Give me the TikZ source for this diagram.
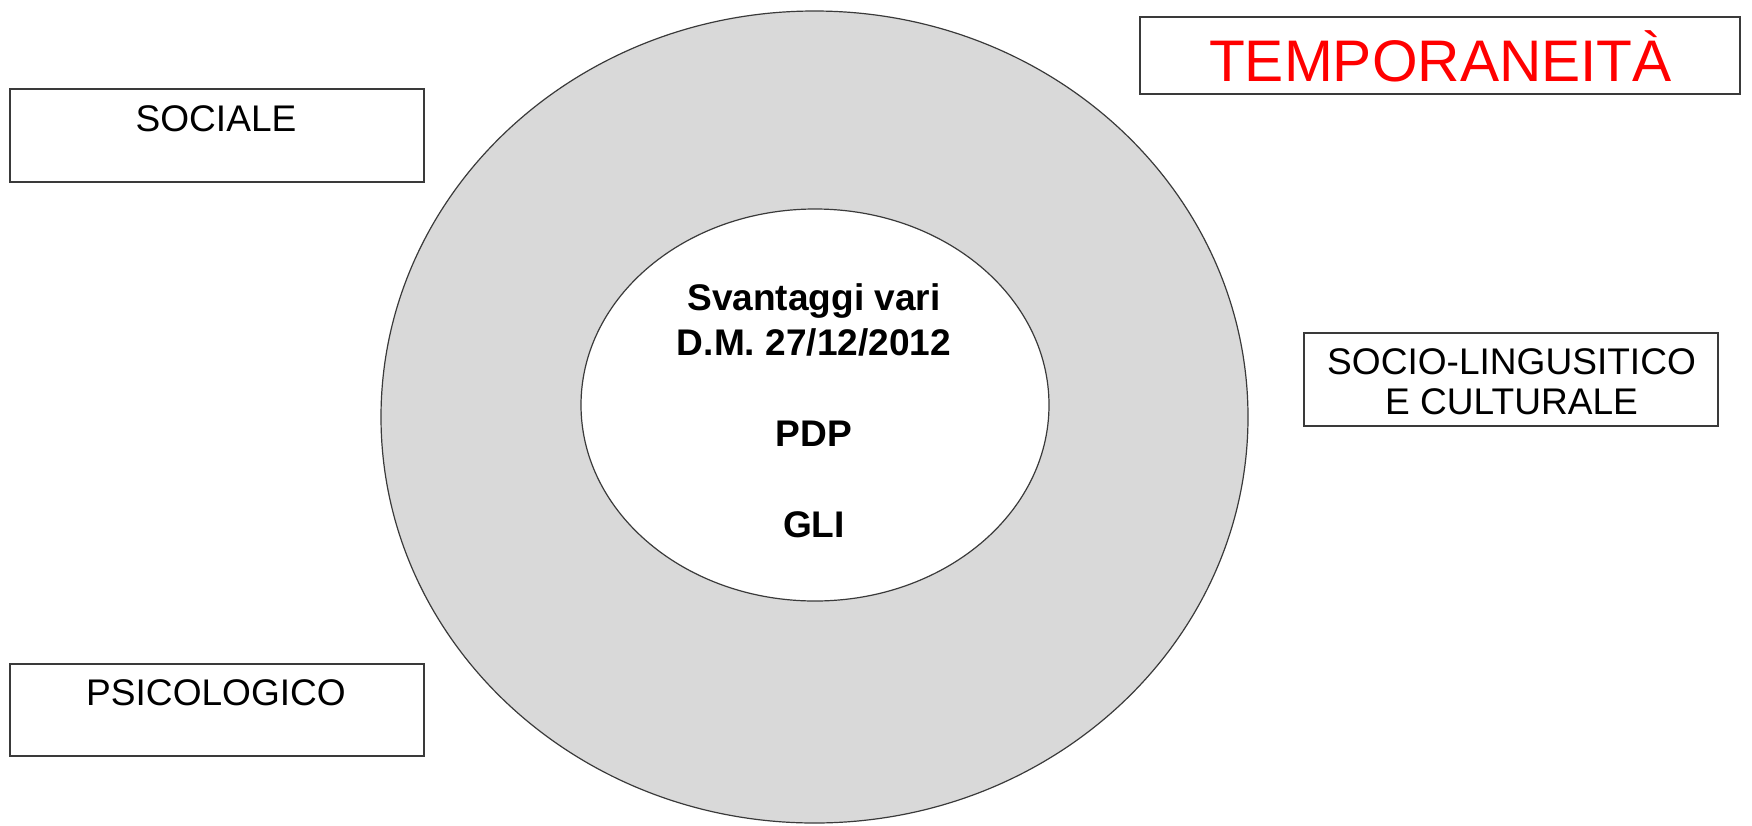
\documentclass[tikz,border=0pt]{standalone}
\usepackage{fontspec}
\setmainfont{Liberation Sans}
\usetikzlibrary{shapes.geometric}
\definecolor{ringgray}{HTML}{D9D9D9}
\definecolor{edgegray}{HTML}{3A3A3A}
\definecolor{tred}{HTML}{FF0000}
\tikzset{
  boxframe/.style={draw=edgegray, line width=1.3pt, fill=white, rectangle, inner sep=0pt},
  boxtext/.style={anchor=base, inner sep=0pt, font=\fontsize{27.8}{30}\selectfont, align=center},
  ringshape/.style={ellipse, draw=edgegray, line width=0.9pt, inner sep=0pt},
}
\begin{document}
\begin{tikzpicture}[x=0.75pt, y=-0.75pt]
\useasboundingbox (0,0) rectangle (1752,825);
% rings
\node[ringshape, fill=ringgray, minimum width=867*0.75pt, minimum height=812*0.75pt] (outer) at (814.5,417) {};
\node[ringshape, fill=white, minimum width=468*0.75pt, minimum height=392*0.75pt] (inner) at (815,405) {};
\node[anchor=center, inner sep=0pt, align=center, font=\bfseries\fontsize{27.8}{34.1}\selectfont] (innertext) at (814,410.5)
  {Svantaggi vari\\D.M. 27/12/2012\\[34.1pt]PDP\\[34.1pt]GLI};
% boxes
\node[boxframe, minimum width=414*0.75pt, minimum height=93*0.75pt] (sociale) at (217,135.5) {};
\node[boxtext] (socialetext) at (216,131) {SOCIALE};
\node[boxframe, minimum width=414*0.75pt, minimum height=92*0.75pt] (psico) at (217,710) {};
\node[boxtext] (psicotext) at (216,705) {PSICOLOGICO};
\node[boxframe, minimum width=600*0.75pt, minimum height=77*0.75pt] (temp) at (1440,55.5) {};
\node[anchor=base, inner sep=0pt, text=tred, font=\fontsize{44}{50}\selectfont] (temptext) at (1440.5,81) {TEMPORANEITÀ};
\node[boxframe, minimum width=414*0.75pt, minimum height=93*0.75pt] (socio) at (1511,379.5) {};
\node[boxtext] (sociotext) at (1511.5,414) {SOCIO-LINGUSITICO\\E CULTURALE};
\end{tikzpicture}
\end{document}
